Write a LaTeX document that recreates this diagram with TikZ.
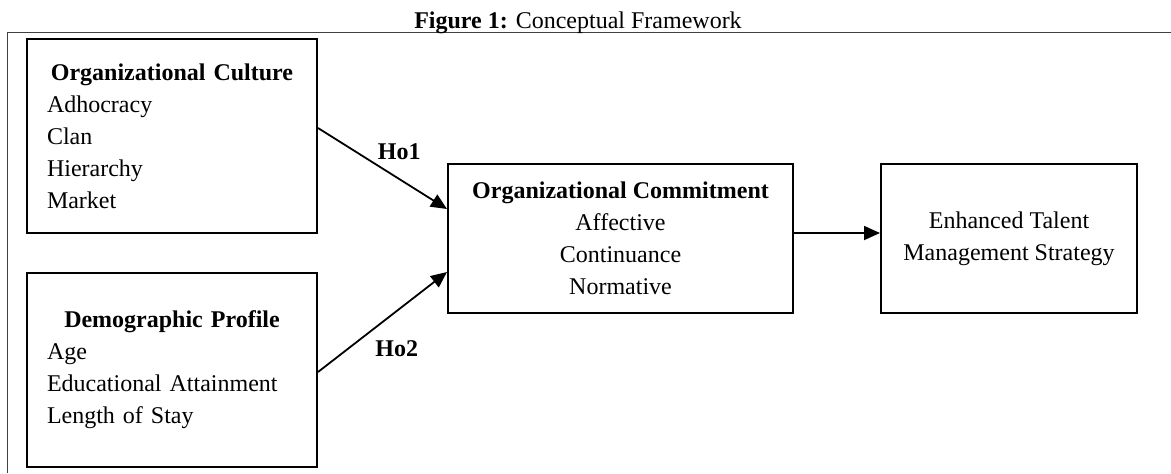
\documentclass[tikz,border=0pt]{standalone}
\usepackage{fontspec}
\setmainfont{Liberation Serif}
\usetikzlibrary{arrows.meta,positioning}

\begin{document}
\begin{tikzpicture}[
  >={Triangle[length=8pt, width=7pt]},
  box/.style={draw, line width=1pt, inner sep=0pt, font=\fontsize{12}{16}\selectfont},
  varbox/.style={box, minimum width=145pt, minimum height=97pt, text width=125pt, align=left},
  midbox/.style={box, minimum height=74.5pt, align=center},
  arr/.style={->, line width=0.9pt},
  lbl/.style={font=\bfseries\fontsize{12}{16}\selectfont},
  node distance=19pt and 65.5pt
]
\useasboundingbox (0,0) rectangle (585.5pt,-236.5pt);

% frame and title
\draw[line width=0.5pt, black!75] (3.5pt,-236.5pt) |- (585.5pt,-16pt);
\node[anchor=base, font=\fontsize{12}{14}\selectfont] (title) at (289pt,-14pt) {\textbf{Figure 1:} Conceptual Framework};

% independent variables
\node[varbox] (org_cult) at (86pt,-68pt) {\makebox[125pt]{\textbf{Organizational Culture}}\\Adhocracy\\Clan\\Hierarchy\\Market};
\node[varbox, below=of org_cult] (demo) {\makebox[125pt]{\textbf{Demographic Profile}}\\Age\\Educational Attainment\\Length of Stay};

% mediator and outcome
\node[midbox, minimum width=172.5pt] (org_comm) at (310.25pt,-119.25pt) {\textbf{Organizational Commitment}\\Affective\\Continuance\\Normative};
\node[midbox, minimum width=128pt, right=43pt of org_comm] (talent) {Enhanced Talent\\Management Strategy};

\draw[arr] ([yshift=4pt]org_cult.east) -- node[lbl, pos=0.63, above=6pt] (ho1) {Ho1} ([yshift=14.75pt]org_comm.west);
\draw[arr] ([yshift=-1pt]demo.east) -- node[lbl, pos=0.61, below=11pt] (ho2) {Ho2} ([yshift=-16.75pt]org_comm.west);
\draw[arr] ([yshift=2.75pt]org_comm.east) -- ([yshift=2.75pt]talent.west);

\end{tikzpicture}
\end{document}
